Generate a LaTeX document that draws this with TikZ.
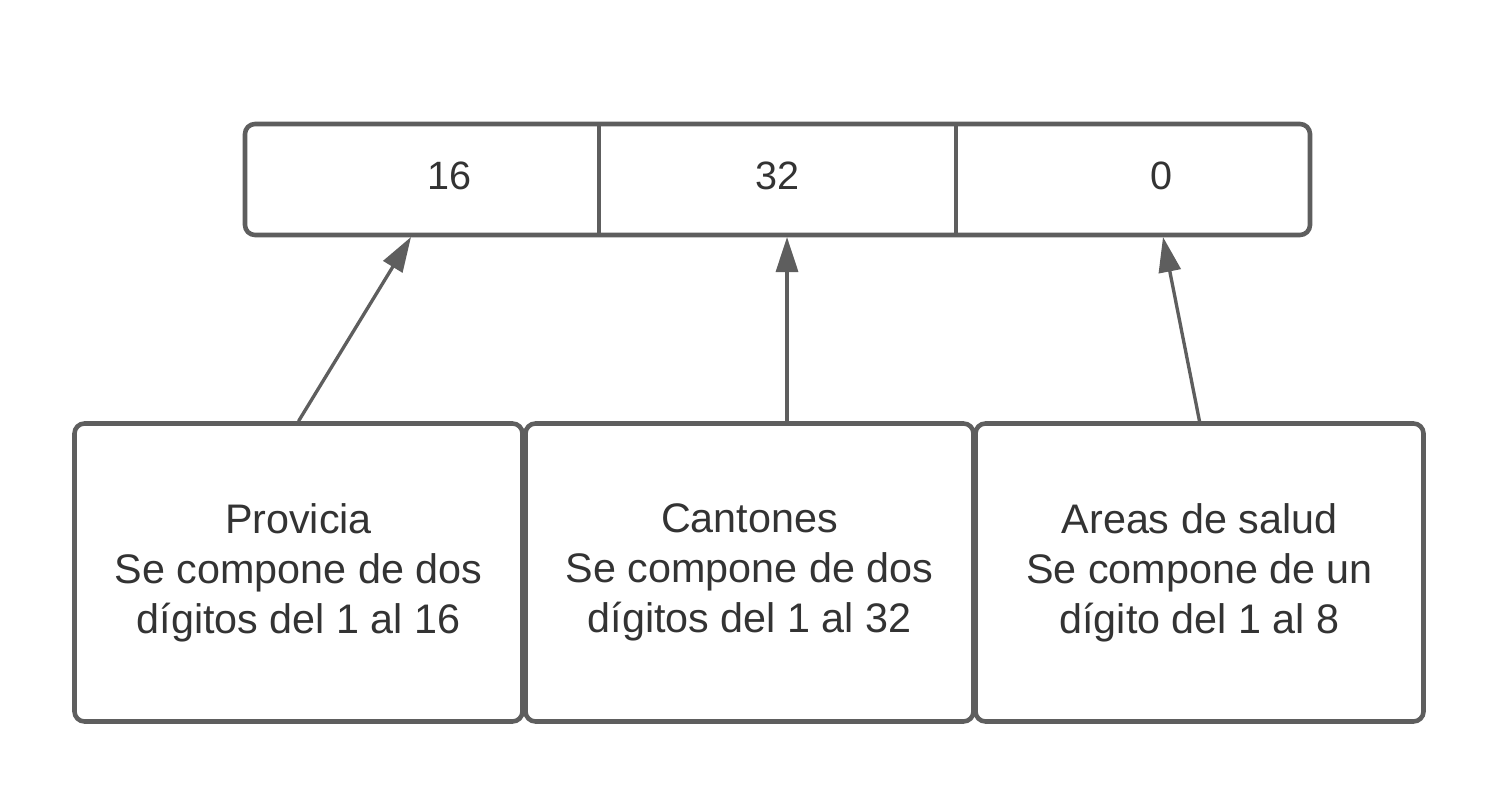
\documentclass[tikz,border=0pt]{standalone}
\usepackage{fontspec}
\setmainfont{Liberation Sans}
\usepackage{tikz}
\usetikzlibrary{positioning,arrows.meta}
\definecolor{linegray}{HTML}{5E5E5E}
\definecolor{textgray}{HTML}{333333}

\begin{document}
\begin{tikzpicture}[scale=1]
\tikzstyle{frame}=[rectangle, rounded corners=0.2cm, line width=2.6pt, draw=linegray, minimum width=21.3cm, minimum height=2.22cm]
\tikzstyle{div}=[line width=2.6pt, draw=linegray]
\tikzstyle{num}=[text=textgray, font=\fontsize{22.5}{27}\selectfont]
\tikzstyle{box}=[rectangle, rounded corners=0.2cm, line width=2.6pt, draw=linegray, minimum width=8.96cm, minimum height=5.96cm, align=center, text=textgray, font=\fontsize{23.5}{28.4}\selectfont]
\tikzstyle{connect}=[-{Triangle[length=0.7cm,width=0.44cm]}, line width=1.9pt, draw=linegray]
\useasboundingbox (0,0) rectangle (30,15.98);
	\node[frame] (reg) at (15.55,12.39) {};
	\draw[div] (11.98,13.5) -- (11.98,11.28);
	\draw[div] (19.12,13.5) -- (19.12,11.28);
	\node[num] (n_1) at (8.98,12.46) {16};
	\node[num] (n_2) at (15.54,12.46) {32};
	\node[num] (n_3) at (23.22,12.46) {0};
	\coordinate (p_1) at (8.22,11.24);
	\coordinate (p_2) at (15.74,11.24);
	\coordinate (p_3) at (23.26,11.24);
	\node[box] (b_1) at (5.97,4.53) {Provicia\\Se compone de dos\\dígitos del 1 al 16};
	\node[box] (b_2) at (14.99,4.53) {Cantones\\Se compone de dos\\dígitos del 1 al 32};
	\node[box] (b_3) at (23.99,4.53) {Areas de salud\\Se compone de un\\dígito del 1 al 8};
	
	\path
		(b_1.north) edge [connect] (p_1)
		([xshift=0.75cm]b_2.north) edge [connect] (p_2)
		(b_3.north) edge [connect] (p_3);
		
\end{tikzpicture}
\end{document}
